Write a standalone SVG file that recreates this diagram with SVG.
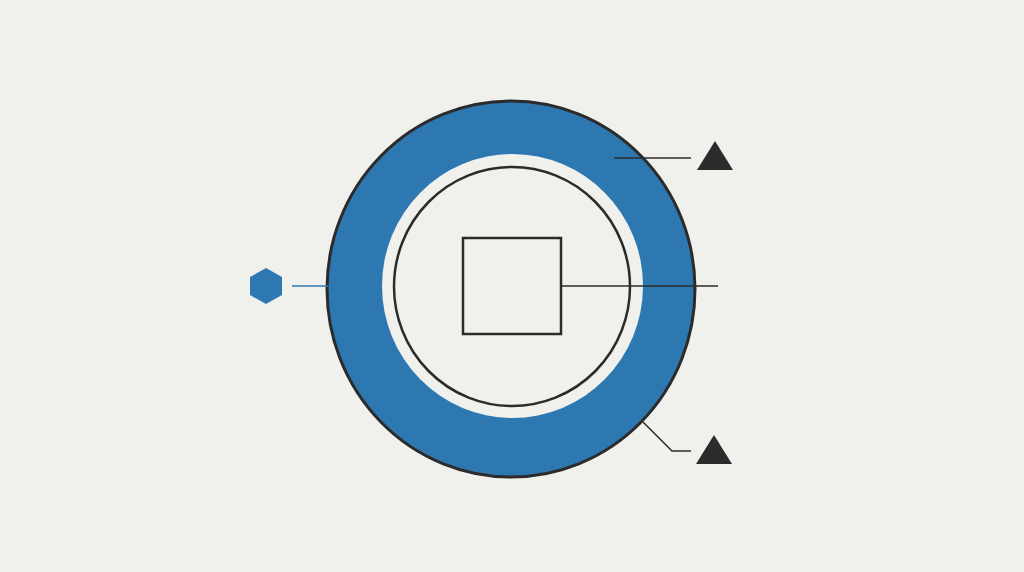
<svg xmlns="http://www.w3.org/2000/svg" width="1024" height="572" viewBox="0 0 1024 572">
<style>
.dark{stroke:#2b2b2b;fill:none}
.tri{fill:#2b2b2b}
.blue{fill:#2e78b1}
</style>
<rect width="1024" height="572" fill="#f0f0ec"/>
<g id="ring">
<ellipse cx="511" cy="289" rx="184" ry="188" class="blue" stroke="#2b2b2b" stroke-width="3"/>
<ellipse cx="512.5" cy="286" rx="130.5" ry="132" fill="#f0f0ec"/>
</g>
<g id="inner-circle">
<ellipse cx="512" cy="286.5" rx="118" ry="119.5" class="dark" stroke-width="2.5"/>
</g>
<g id="square">
<rect x="463" y="238" width="98" height="96" class="dark" stroke-width="2.5"/>
</g>
<g id="hexagon">
<polygon points="266,268 282,277 282,295 266,304 250,295 250,277" class="blue"/>
</g>
<g id="triangle-top">
<polygon points="715,141 733,170 697,170" class="tri"/>
</g>
<g id="triangle-bottom">
<polygon points="714,435 732,464 696,464" class="tri"/>
</g>
<g id="connectors">
<line x1="292" y1="286" x2="328" y2="286" stroke="#2e78b1" stroke-width="1.5"/>
<line x1="561" y1="286" x2="718" y2="286" class="dark" stroke-width="1.5"/>
<line x1="614" y1="158" x2="691" y2="158" class="dark" stroke-width="1.5"/>
<polyline points="643,422 672,451 691,451" class="dark" stroke-width="1.5"/>
</g>
</svg>
